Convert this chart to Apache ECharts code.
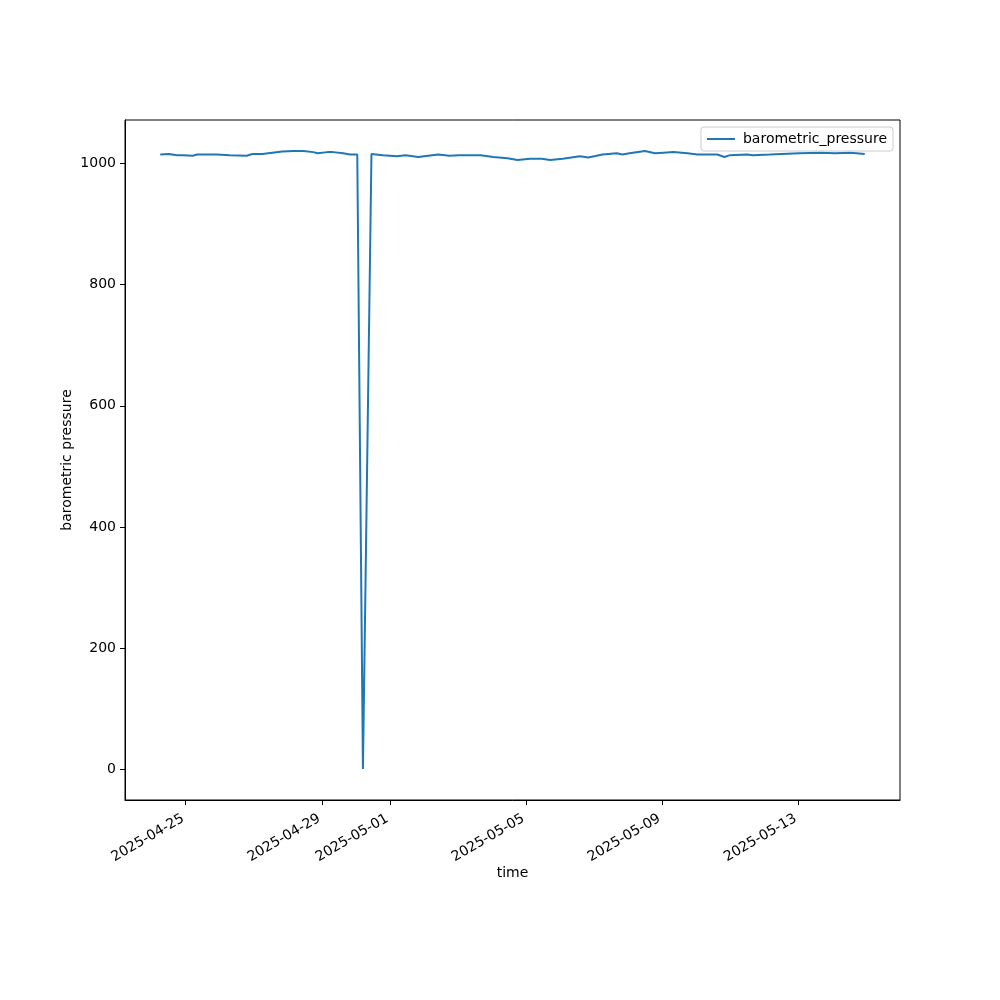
<!DOCTYPE html>
<html>
<head>
<meta charset="utf-8">
<script src="https://cdn.jsdelivr.net/npm/echarts@6/dist/echarts.min.js"></script>
<style>html,body{margin:0;padding:0;background:#fff}#c{width:1000px;height:1000px}</style>
</head>
<body>
<div id="c"></div>
<script>
var times = [
"2025-04-24T06:00","2025-04-24T12:00","2025-04-24T18:00","2025-04-24T22:00",
"2025-04-25T05:00","2025-04-25T08:00","2025-04-25T22:00","2025-04-26T07:00",
"2025-04-26T19:00","2025-04-26T23:00","2025-04-27T06:00","2025-04-27T13:00",
"2025-04-27T20:00","2025-04-28T04:00","2025-04-28T11:00","2025-04-28T18:00",
"2025-04-28T21:00","2025-04-29T04:00","2025-04-29T08:00","2025-04-29T15:00",
"2025-04-29T20:00","2025-04-30T01:00","2025-04-30T05:00","2025-04-30T11:00",
"2025-04-30T19:00","2025-05-01T05:00","2025-05-01T11:00","2025-05-01T20:00",
"2025-05-02T03:00","2025-05-02T10:00","2025-05-02T18:00","2025-05-03T01:00",
"2025-05-03T16:00","2025-05-04T01:00","2025-05-04T11:00","2025-05-04T18:00",
"2025-05-05T03:00","2025-05-05T11:00","2025-05-05T17:00","2025-05-06T02:00",
"2025-05-06T14:00","2025-05-06T20:00","2025-05-07T06:00","2025-05-07T16:00",
"2025-05-07T20:00","2025-05-08T01:00","2025-05-08T12:00","2025-05-08T19:00",
"2025-05-09T01:00","2025-05-09T08:00","2025-05-09T18:00","2025-05-10T01:00",
"2025-05-10T15:00","2025-05-10T20:00","2025-05-11T00:00","2025-05-11T12:00",
"2025-05-11T16:00","2025-05-12T04:00","2025-05-13T01:00","2025-05-13T16:00",
"2025-05-14T02:00","2025-05-14T13:00","2025-05-14T23:00"
];
var pressure = [
1015,1016,1014,1014,
1013,1015,1015,1014,
1013,1016,1016,1018,
1020,1021,1021,1019,
1017,1019,1019,1017,
1015,1015,0,1016,
1014,1012,1014,1011,
1013,1015,1013,1014,
1014,1011,1009,1006,
1008,1008,1006,1008,
1012,1010,1015,1017,
1015,1017,1021,1017,
1018,1019,1017,1015,
1015,1011,1014,1015,
1014,1015,1017,1018,
1017,1018,1016
];
var tickDates = ["2025-04-25","2025-04-29","2025-05-01","2025-05-05","2025-05-09","2025-05-13"];
var yTicks = [0,200,400,600,800,1000];
var seriesName = "barometric_pressure";

function toMs(s){ return Date.parse(s + (s.length > 10 ? ":00Z" : "T00:00:00Z")); }
var tms = times.map(toMs);
var data = tms.map(function(t,i){ return [t, pressure[i]]; });
var tMin = Math.min.apply(null,tms), tMax = Math.max.apply(null,tms);
var tPad = (tMax - tMin) * 0.05;
var vMin = Math.min.apply(null,pressure), vMax = Math.max.apply(null,pressure);
var vPad = (vMax - vMin) * 0.05;
var xTickVals = tickDates.map(toMs);
function pad2(n){ return (n<10?"0":"")+n; }
function fmtDate(v){ var d = new Date(v); return d.getUTCFullYear()+"-"+pad2(d.getUTCMonth()+1)+"-"+pad2(d.getUTCDate()); }

var chart = echarts.init(document.getElementById('c'), null, {renderer:'canvas'});
var font = 'DejaVu Sans';
chart.setOption({
  animation: false,
  backgroundColor: '#fff',
  textStyle: {fontFamily: font},
  grid: {left:125, right:100, top:120, bottom:200, show:true, borderColor:'#000', borderWidth:1, backgroundColor:'transparent'},
  legend: {
    right: 107, top: 127, orient:'horizontal',
    data: [{name: seriesName, icon: 'rect'}],
    itemWidth: 28, itemHeight: 2,
    itemGap: 10,
    borderColor: '#cccccc', borderWidth: 1, borderRadius: 3,
    padding: [5, 6, 5, 6],
    backgroundColor: 'rgba(255,255,255,0.8)',
    textStyle: {fontFamily: font, fontSize: 14, color:'#000', padding:[0,0,0,3]}
  },
  xAxis: {
    type: 'value', min: tMin - tPad, max: tMax + tPad,
    name: 'time', nameLocation: 'middle', nameGap: 66, nameMoveOverlap: false,
    nameTextStyle: {fontFamily: font, fontSize: 14, color:'#000'},
    axisLine: {show:true, onZero:false, lineStyle:{color:'#000', width:1}},
    axisTick: {show:true, length:5, inside:false, customValues: xTickVals, lineStyle:{color:'#000'}},
    axisLabel: {show:true, rotate:30, margin:8, align:'right', verticalAlign:'top', padding:[0,7,0,0], fontSize:14, color:'#000', fontFamily: font, customValues: xTickVals, formatter: fmtDate},
    splitLine: {show:false}
  },
  yAxis: {
    type: 'value', min: vMin - vPad, max: vMax + vPad,
    name: 'barometric pressure', nameLocation: 'middle', nameGap: 51, nameRotate: 90, nameMoveOverlap: false,
    nameTextStyle: {fontFamily: font, fontSize: 14, color:'#000'},
    axisLine: {show:true, onZero:false, lineStyle:{color:'#000', width:1}},
    axisTick: {show:true, length:5, customValues: yTicks, lineStyle:{color:'#000'}},
    axisLabel: {show:true, margin:9, fontSize:14, color:'#000', fontFamily: font, customValues: yTicks, formatter: function(v){ return String(v); }},
    splitLine: {show:false}
  },
  series: [{
    name: seriesName, type: 'line', data: data,
    showSymbol: false, symbol: 'none',
    lineStyle: {color:'#1f77b4', width:2},
    itemStyle: {color:'#1f77b4'}
  }]
});
</script>
</body>
</html>
